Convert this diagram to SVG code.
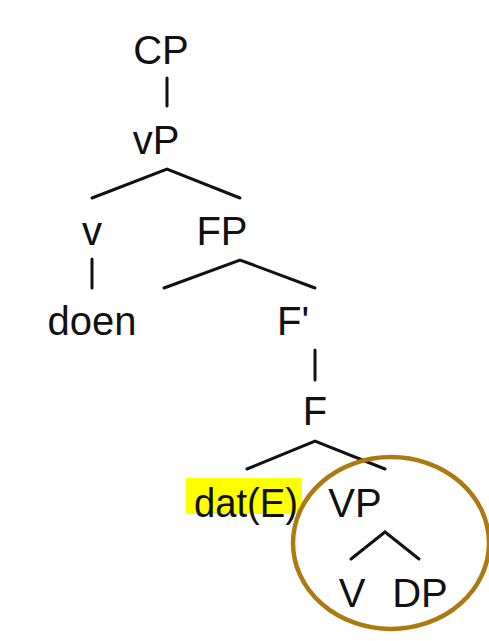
<svg xmlns="http://www.w3.org/2000/svg" width="489" height="641" viewBox="0 0 489 641">
<style>
text{font-family:"Liberation Sans",Arial,sans-serif;font-size:40px;fill:#111;text-anchor:middle}
.e{stroke:#111;stroke-width:3;fill:none;stroke-linecap:round;stroke-linejoin:miter}
</style>
<rect width="489" height="641" fill="#fff"/>
<g id="highlight"><rect x="186" y="478" width="116" height="36" fill="#ffff00"/></g>
<g id="connectors">
<line class="e" x1="167" y1="78" x2="167" y2="106"/>
<polyline class="e" points="92,198 167,169 240,198"/>
<line class="e" x1="92" y1="259" x2="92" y2="288"/>
<polyline class="e" points="164,288 240,260 315,288"/>
<line class="e" x1="315" y1="350" x2="315" y2="380"/>
<polyline class="e" points="247,469 315,441 385,469"/>
<polyline class="e" points="351,559 385,532 419,559"/>
</g>
<g id="n-CP"><text x="161" y="64">CP</text></g>
<g id="n-vP"><text x="156" y="154">vP</text></g>
<g id="n-v"><text x="92" y="245">v</text></g>
<g id="n-FP"><text x="222" y="245">FP</text></g>
<g id="n-doen"><text x="92" y="335">doen</text></g>
<g id="n-F1"><text x="293" y="335">F'</text></g>
<g id="n-F"><text x="315" y="425">F</text></g>
<g id="n-dat"><text x="246" y="517" textLength="104" lengthAdjust="spacingAndGlyphs">dat(E)</text></g>
<g id="n-VP"><text x="355" y="517">VP</text></g>
<g id="n-V"><text x="352" y="607">V</text></g>
<g id="n-DP"><text x="420" y="607">DP</text></g>
<g id="circle"><ellipse cx="391" cy="543" rx="98" ry="86" fill="none" stroke="#ad7a12" stroke-width="4.5"/></g>
</svg>
